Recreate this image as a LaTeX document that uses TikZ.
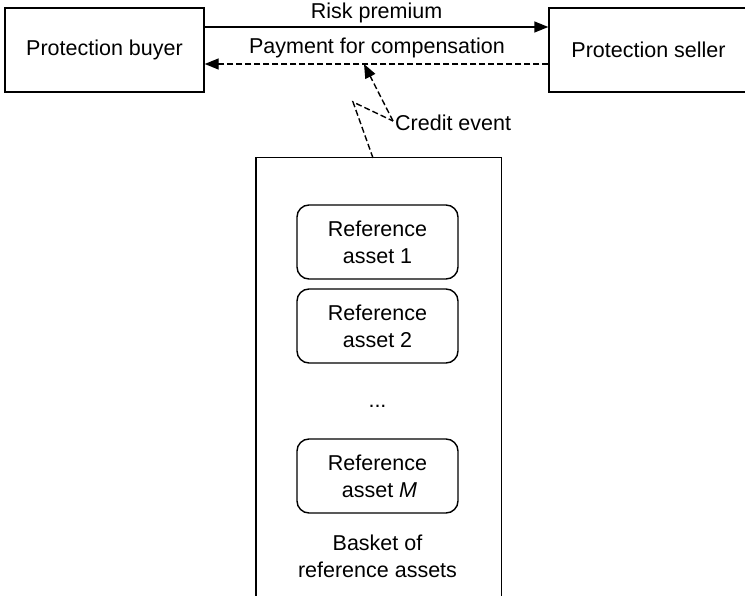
\documentclass[tikz,border=0pt]{standalone}
\usepackage{fontspec}
\setmainfont{Liberation Sans}
\usetikzlibrary{arrows.meta}
\begin{document}
\begin{tikzpicture}[x=1pt,y=-1pt,
  every node/.style={font=\fontsize{21.5}{27}\selectfont, inner sep=0pt},
  party/.style={draw, line width=1.4pt, minimum width=199pt, minimum height=84pt},
  asset/.style={draw, line width=1.4pt, rounded corners=12pt, minimum width=161pt, minimum height=74pt, align=center},
  arrowtip/.style={-{Triangle[length=14pt,width=11pt]}},
  flow/.style={line width=1.4pt},
  dashedline/.style={line width=1.4pt, dash pattern=on 6pt off 3pt}]
\useasboundingbox (0,0) rectangle (745,596);

% parties
\node[party] (buyer) at (104.5,50) {Protection buyer};
\node[party] (seller) at (648.5,50) {Protection seller};

% cash flows between the parties
\draw[flow,arrowtip] (buyer.east |- 0,27) -- node[above=3pt] (rp) {Risk premium} (seller.west |- 0,27);
\draw[dashedline,arrowtip] (seller.west |- 0,64) -- (buyer.east |- 0,64);
\node (pay) at (377,48) {Payment for compensation};

% basket of reference assets (open at the bottom)
\node[minimum width=245pt, minimum height=450pt] (basket) at (378.5,383) {};
\draw[line width=1.4pt] (basket.south west) -- (basket.north west) -- (basket.north east) -- (basket.south east);

\node[asset] (a1) at (377.5,242) {Reference\\asset 1};
\node[asset] (a2) at (377.5,326) {Reference\\asset 2};
\node (dots) at (377.5,406) {...};
\node[asset] (aM) at (377.5,476) {Reference\\\hspace{4pt}asset \textit{M}};
\node[align=center] (blabel) at (377.5,556) {Basket of\\reference assets};

% credit event trigger
\node[anchor=west] (ce) at (395,123) {Credit event};
\coordinate (z1) at (373,158);
\coordinate (z2) at (353,102);
\coordinate (z3) at (393,121);
\coordinate (z4) at (364,64);
\draw[dashedline] (z1) -- (z2) -- (z3);
\draw[dashedline,arrowtip] (z3) -- (z4);
\end{tikzpicture}
\end{document}
